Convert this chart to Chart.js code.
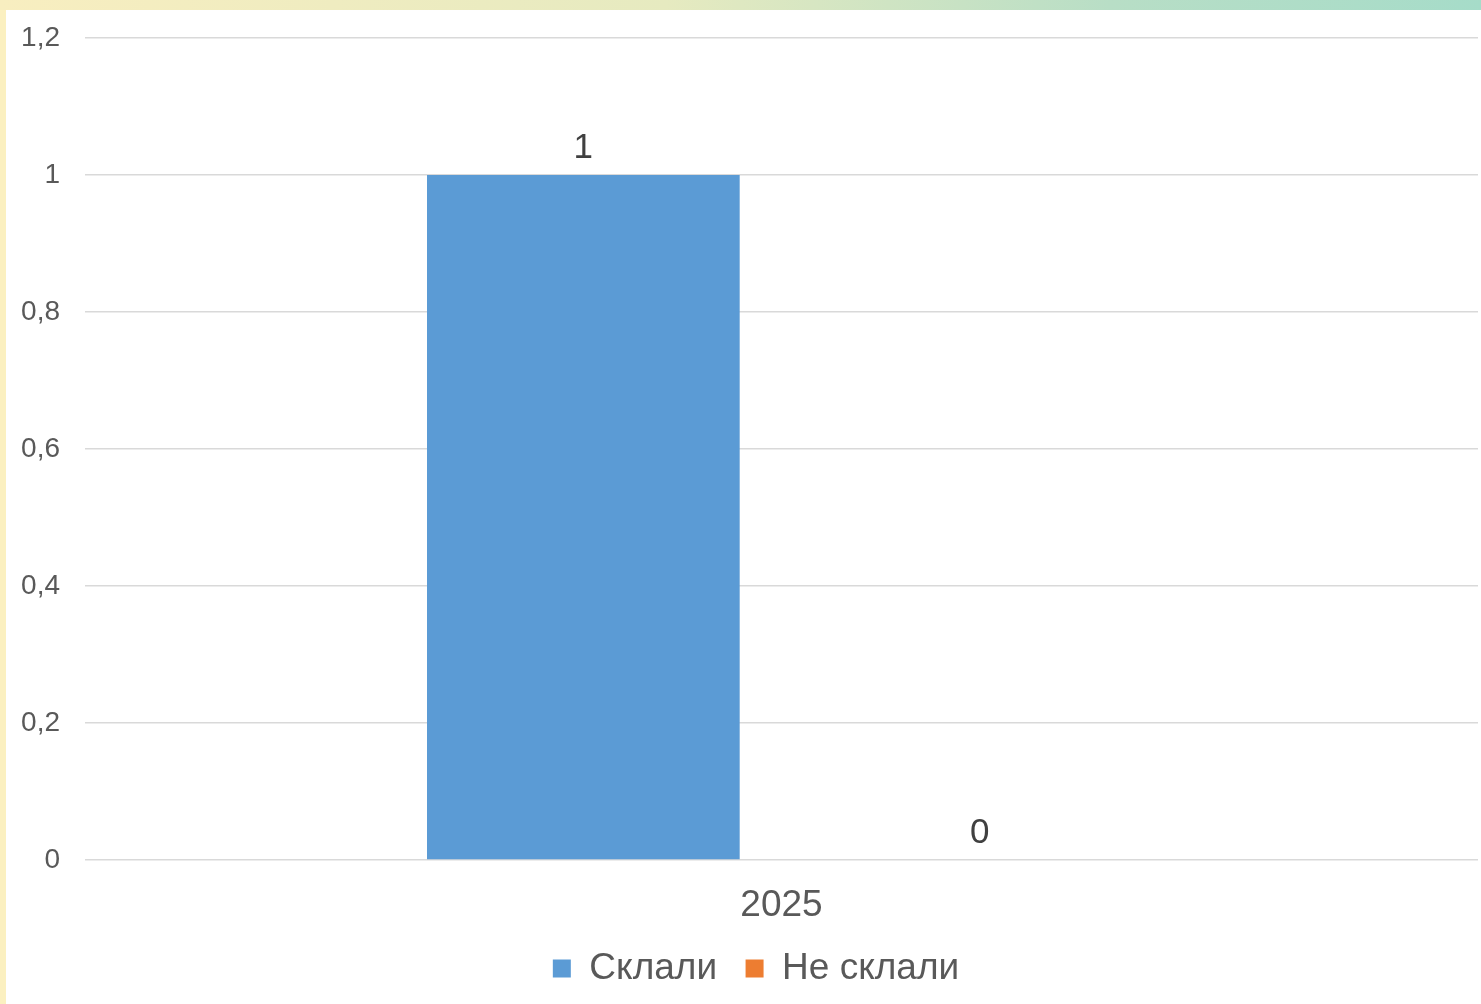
<!DOCTYPE html>
<html>
<head>
<meta charset="utf-8">
<script src="https://cdn.jsdelivr.net/npm/chart.js@4.4.1/dist/chart.umd.min.js"></script>
<style>
  html, body { margin: 0; padding: 0; }
  body { width: 1481px; height: 1004px; background: #fbf0c0; position: relative; overflow: hidden; }
  #topstrip { position: absolute; left: 0; top: 0; width: 1481px; height: 10px;
    background: linear-gradient(to right, #f8eec0 0%, #e6eac0 45%, #b8dec6 75%, #a6dcc9 100%); }
  #wrap { position: absolute; left: 6px; top: 10px; width: 1475px; height: 994px; background: #fff; }
</style>
</head>
<body>
<div id="topstrip"></div>
<div id="wrap"><canvas id="chart" width="1475" height="994"></canvas></div>
<script>
const categories = ["2025"];
const sklali = [1];
const neSklali = [0];
const yTicks = [0, 0.2, 0.4, 0.6, 0.8, 1, 1.2];

const FONT = "'Liberation Sans', Arial, sans-serif";

// simple value labels above bars
const valueLabels = {
    id: 'valueLabels',
    afterDatasetsDraw(chart) {
        const c = chart.ctx;
        c.save();
        c.font = "35px " + FONT;
        c.fillStyle = "#404040";
        c.textAlign = "center";
        c.textBaseline = "bottom";
        chart.data.datasets.forEach((ds, i) => {
            chart.getDatasetMeta(i).data.forEach((bar, j) => {
                c.fillText(String(ds.data[j]), bar.x, bar.y - 9);
            });
        });
        c.restore();
    }
};

// legend in the original sits a bit right of centre
const legendShift = {
    id: 'legendShift',
    afterLayout(chart) {
        chart.legend.left += 14;
        chart.legend.right += 14;
    }
};

const ctx = document.querySelector('#chart').getContext('2d');
const chart = new Chart(ctx, {
    type: 'bar',
    data: {
        labels: categories,
        datasets: [
            {
                label: "Склали",
                data: sklali,
                backgroundColor: "#5b9bd5",
            },
            {
                label: "Не склали",
                data: neSklali,
                backgroundColor: "#ed7d31",
            }
        ]
    },
    options: {
        responsive: false,
        animation: false,
        categoryPercentage: 0.569,
        barPercentage: 0.789,
        layout: {
            padding: { top: 28, right: 3, bottom: 7, left: 0 }
        },
        scales: {
            x: {
                grid: { display: false, drawTicks: false },
                border: { display: false },
                ticks: {
                    color: "#595959",
                    font: { family: FONT, size: 37 },
                    padding: 24
                },
                afterFit(axis) { axis.height = 80; }
            },
            y: {
                min: 0,
                max: 1.2,
                afterBuildTicks(axis) { axis.ticks = yTicks.map(v => ({ value: v })); },
                grid: { color: "#d9d9d9", lineWidth: 1.5, drawTicks: false },
                border: { display: false },
                ticks: {
                    color: "#595959",
                    font: { family: FONT, size: 28 },
                    padding: 25,
                    callback: v => Number(v.toFixed(1)).toString().replace('.', ',')
                },
                afterFit(axis) {
                    axis.width = 79;
                    axis.paddingTop = 0;
                    axis.paddingBottom = 0;
                }
            }
        },
        plugins: {
            legend: {
                position: 'bottom',
                labels: {
                    color: "#595959",
                    font: { family: FONT, size: 37 },
                    boxWidth: 18,
                    boxHeight: 18,
                    padding: 10,
                    generateLabels(chart) {
                        const items = Chart.defaults.plugins.legend.labels.generateLabels(chart);
                        // wider gap after the first entry, like the original
                        items[0].text += "\u2002";
                        return items;
                    }
                }
            },
            tooltip: { enabled: false }
        }
    },
    plugins: [valueLabels, legendShift]
});
</script>
</body>
</html>
